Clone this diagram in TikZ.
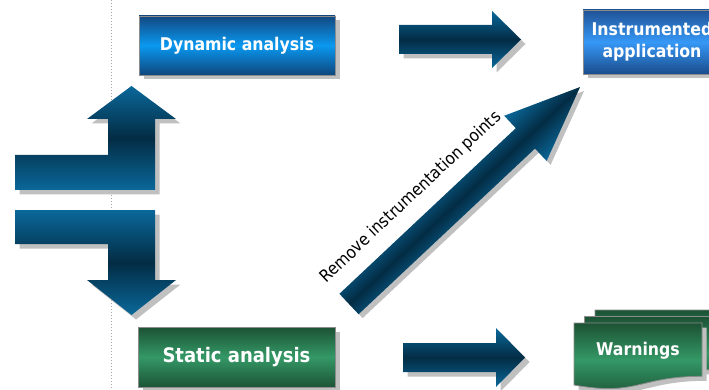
\documentclass[tikz,border=0pt]{standalone}
\usepackage{fontspec}
\setmainfont{DejaVu Sans Condensed}
\usetikzlibrary{shadows}
\definecolor{arrE}{RGB}{10,104,154}
\definecolor{arrD}{RGB}{3,44,68}
\definecolor{shd}{RGB}{192,192,192}
\definecolor{bdr}{RGB}{140,140,140}
\definecolor{dynT}{RGB}{18,72,128}
\definecolor{dynM}{RGB}{10,152,240}
\definecolor{dynB}{RGB}{14,70,124}
\definecolor{insT}{RGB}{32,82,150}
\definecolor{insM}{RGB}{54,152,246}
\definecolor{insB}{RGB}{26,76,140}
\definecolor{grnT}{RGB}{28,82,52}
\definecolor{grnM}{RGB}{52,152,102}
\definecolor{grnB}{RGB}{28,84,54}
\begin{document}
\begin{tikzpicture}[x=1pt,y=-1pt,line join=miter,
  shadowed/.style={drop shadow={shadow xshift=4.5pt,shadow yshift=-4.5pt,fill=shd,opacity=1}},
  blockarrow/.style={top color=arrE,bottom color=arrE,middle color=arrD,draw=none},
  boxbase/.style={draw=bdr,line width=0.8pt,text=white,inner sep=0pt,align=center},
  dynbox/.style={boxbase,top color=dynT,bottom color=dynB,middle color=dynM},
  insbox/.style={boxbase,top color=insT,bottom color=insB,middle color=insM},
  grnbox/.style={boxbase,top color=grnT,bottom color=grnB,middle color=grnM},
  sheet/.style={draw=bdr,line width=0.8pt,top color=grnT,bottom color=grnB,middle color=grnM},
  guide/.style={draw=black!35,line width=0.6pt,dash pattern=on 1pt off 2pt},
  lbl/.style={font=\fontsize{17.5}{22}\selectfont\bfseries}
]
\useasboundingbox (0,0) rectangle (709,390);
\clip (0,0) rectangle (709,390);

% dotted guide line
\coordinate (gtop) at (111,0);
\coordinate (gbot) at (111,390);
\draw[guide] (gtop) -- (gbot);

% boxes
\node[dynbox,shadowed,minimum width=196pt,minimum height=59pt,lbl] (dyn) at (237,45.5) {Dynamic analysis};
\node[insbox,shadowed,minimum width=138pt,minimum height=64pt,lbl] (ins) at (652,42) {Instrumented\\application};
\node[grnbox,shadowed,minimum width=197pt,minimum height=60pt,font=\fontsize{20}{24}\selectfont\bfseries] (sta) at (236.5,357) {Static analysis};

% warnings (multi-document)
\foreach \dx/\dy in {21/-13,10.5/-6.5,0/0}{
  \path[sheet,shadowed,shift={(\dx,\dy)}] (574,323) -- (702,323) -- (702,376.3)
     .. controls (638,376.3) and (638,396.5) .. (574,385) -- cycle;
}
\node[lbl,text=white] (warn) at (638,351) {Warnings};

% bent arrow up
\path[blockarrow,shadowed] (15,155) -- (108,155) -- (108,119) -- (87,119) -- (131.5,86)
  -- (176,119) -- (155,119) -- (155,190) -- (15,190) -- cycle;
% bent arrow down
\path[blockarrow,shadowed] (15,210) -- (155,210) -- (155,280) -- (176,280) -- (131.5,315)
  -- (87,280) -- (108,280) -- (108,244) -- (15,244) -- cycle;

% right arrows
\path[blockarrow,shadowed] (399,25) -- (492,25) -- (492,11) -- (521,39.5) -- (492,68)
  -- (492,54) -- (399,54) -- cycle;
\path[blockarrow,shadowed] (403,343) -- (496,343) -- (496,328) -- (525,357.5) -- (496,387)
  -- (496,372) -- (403,372) -- cycle;

% diagonal arrow
\begin{scope}[transform canvas={shift={(349,304)},rotate=43.2}]
  \fill[shd,shift={(0.2,5.6)}] (0,-14) -- (242,-14) -- (242,-31) -- (317,0) -- (242,31)
     -- (242,14) -- (0,14) -- cycle;
  \path[blockarrow] (0,-14) -- (242,-14) -- (242,-31) -- (317,0) -- (242,31)
     -- (242,14) -- (0,14) -- cycle;
\end{scope}
\node[rotate=43.2,anchor=base,font=\fontsize{17}{20}\selectfont,inner sep=0pt] (rm) at (414,201) {Remove instrumentation points};
\end{tikzpicture}
\end{document}
